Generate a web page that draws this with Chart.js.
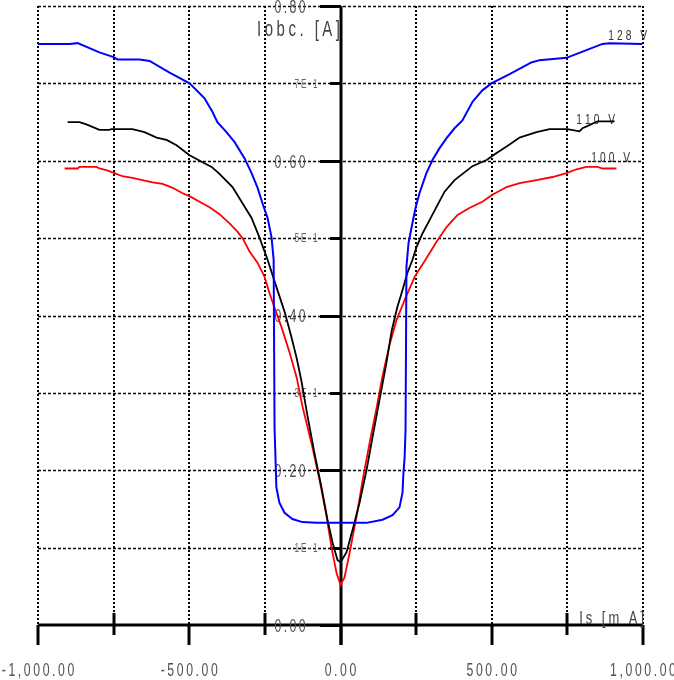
<!DOCTYPE html>
<html>
<head>
<meta charset="utf-8">
<script src="https://cdn.jsdelivr.net/npm/chart.js@4.4.1/dist/chart.umd.min.js"></script>
<style>
    html, body { margin: 0; padding: 0; background: #fff; }
    #chart { display: block; }
</style>
</head>
<body>
<canvas id="chart" width="674" height="680"></canvas>
<script>
// Axis ticks and labels
const xMajorTicks = [-1000, -500, 0, 500, 1000];
const xMinorTicks = [-750, -250, 250, 750];
const xMajorLabels = ['-1,000.00', '-500.00', '0.00', '500.00', '1,000.00'];
const yMajorTicks = [0, 0.2, 0.4, 0.6, 0.8];
const yMinorTicks = [0.1, 0.3, 0.5, 0.7];
const yMajorLabels = ['0.00', '0.20', '0.40', '0.60', '0.80'];
const yMinorLabels = ['1E-1', '3E-1', '5E-1', '7E-1'];

// Series names
const seriesNames = ['128 V', '110 V', '100 V'];

// 128 V curve
const is128 = [-1000, -896, -869, -797, -750, -737, -664, -631, -565, -499, -450, -423, -407, -377, -350, -317, -294, -274, -258, -241, -228, -221, -218, -215, -212, -202, -185, -159, -126, -79, 0, 86, 139, 172, 195, 205, 208, 212, 215, 218, 225, 235, 248, 261, 284, 304, 327, 350, 377, 403, 436, 469, 499, 559, 631, 658, 747, 813, 866, 889, 998];
const iobc128 = [0.751, 0.751, 0.752, 0.740, 0.734, 0.731, 0.731, 0.729, 0.714, 0.700, 0.681, 0.663, 0.650, 0.637, 0.624, 0.603, 0.584, 0.565, 0.545, 0.526, 0.501, 0.472, 0.255, 0.217, 0.178, 0.158, 0.145, 0.137, 0.133, 0.132, 0.132, 0.132, 0.136, 0.142, 0.152, 0.171, 0.196, 0.217, 0.252, 0.463, 0.494, 0.514, 0.539, 0.558, 0.584, 0.601, 0.616, 0.629, 0.642, 0.652, 0.676, 0.691, 0.700, 0.712, 0.727, 0.730, 0.733, 0.743, 0.751, 0.752, 0.751];

// 110 V curve
const is110 = [-902, -863, -840, -797, -764, -757, -688, -648, -608, -575, -542, -499, -456, -426, -400, -357, -324, -294, -268, -241, -212, -185, -162, -145, -129, -109, -86, -63, -43, -26, -10, 0, 20, 40, 63, 86, 106, 129, 152, 169, 188, 205, 221, 238, 251, 271, 294, 317, 344, 377, 410, 436, 483, 516, 559, 592, 648, 691, 750, 790, 800, 823, 850, 906];
const iobc110 = [0.650, 0.650, 0.647, 0.640, 0.640, 0.641, 0.641, 0.637, 0.630, 0.627, 0.620, 0.607, 0.598, 0.592, 0.583, 0.566, 0.545, 0.526, 0.501, 0.472, 0.437, 0.405, 0.372, 0.345, 0.315, 0.270, 0.222, 0.178, 0.136, 0.106, 0.084, 0.081, 0.094, 0.123, 0.158, 0.200, 0.243, 0.291, 0.339, 0.380, 0.411, 0.433, 0.455, 0.472, 0.488, 0.506, 0.523, 0.540, 0.560, 0.575, 0.585, 0.593, 0.601, 0.610, 0.621, 0.630, 0.637, 0.641, 0.641, 0.638, 0.642, 0.646, 0.651, 0.651];

// 100 V curve
const is100 = [-912, -869, -863, -807, -797, -774, -747, -721, -688, -655, -621, -588, -555, -522, -493, -466, -433, -400, -367, -340, -324, -301, -274, -251, -235, -218, -195, -169, -145, -126, -96, -69, -46, -30, -13, 0, 13, 30, 53, 73, 96, 119, 139, 162, 185, 212, 245, 284, 317, 350, 387, 426, 469, 502, 549, 592, 648, 701, 747, 780, 813, 850, 866, 912];
const iobc100 = [0.590, 0.590, 0.592, 0.592, 0.590, 0.588, 0.584, 0.580, 0.578, 0.575, 0.572, 0.570, 0.565, 0.558, 0.553, 0.547, 0.540, 0.531, 0.519, 0.508, 0.500, 0.483, 0.468, 0.450, 0.429, 0.410, 0.385, 0.353, 0.320, 0.283, 0.235, 0.187, 0.140, 0.101, 0.067, 0.052, 0.061, 0.093, 0.140, 0.187, 0.235, 0.280, 0.322, 0.362, 0.394, 0.420, 0.450, 0.474, 0.495, 0.514, 0.530, 0.539, 0.547, 0.556, 0.566, 0.571, 0.575, 0.579, 0.584, 0.589, 0.592, 0.592, 0.590, 0.590];

function toPoints(xs, ys) {
    return xs.map((v, i) => ({ x: v, y: ys[i] }));
}

// Draws text one char at a time, squeezed horizontally, with extra spacing
function drawSpaced(ctx, text, x, y, size, gap, align, color) {
    const sx = 0.68;
    ctx.save();
    ctx.font = size + 'px "Liberation Sans", Arial, sans-serif';
    ctx.fillStyle = color || '#555';
    ctx.textBaseline = 'middle';
    ctx.textAlign = 'left';
    const widths = [...text].map(ch => ctx.measureText(ch).width * sx);
    const total = widths.reduce((s, w) => s + w, 0) + gap * (text.length - 1);
    let cx = align === 'center' ? x - total / 2 : align === 'right' ? x - total : x;
    [...text].forEach((ch, i) => {
        ctx.save();
        ctx.translate(cx, y);
        ctx.scale(sx, 1);
        ctx.fillText(ch, 0, 0);
        ctx.restore();
        cx += widths[i] + gap;
    });
    ctx.restore();
}

function line(ctx, x1, y1, x2, y2) {
    ctx.beginPath();
    ctx.moveTo(x1, y1);
    ctx.lineTo(x2, y2);
    ctx.stroke();
}

// Grid, axes through the origin, ticks and all the texts
const decorPlugin = {
    id: 'decor',
    beforeDatasetsDraw(chart) {
        const { ctx, chartArea: a, scales: { x, y } } = chart;
        const x0 = Math.round(x.getPixelForValue(0));
        const y0 = Math.round(y.getPixelForValue(0));
        ctx.save();

        // horizontal dashed grid
        ctx.strokeStyle = '#000';
        ctx.lineWidth = 1.5;
        ctx.setLineDash([3, 2]);
        yMajorTicks.concat(yMinorTicks).forEach(v => {
            if (v === 0) return;
            const py = Math.round(y.getPixelForValue(v)) + 0.5;
            line(ctx, a.left, py, a.right, py);
        });

        // vertical dotted grid
        ctx.lineWidth = 2;
        ctx.setLineDash([2, 2]);
        xMajorTicks.concat(xMinorTicks).forEach(v => {
            if (v === 0) return;
            const px = Math.round(x.getPixelForValue(v));
            line(ctx, px, a.top, px, a.bottom);
        });

        // axes
        ctx.setLineDash([]);
        ctx.lineWidth = 3;
        line(ctx, a.left, y0, a.right, y0);
        line(ctx, x0, a.top, x0, y0 + 20);

        // x ticks
        xMajorTicks.forEach(v => {
            const px = Math.round(x.getPixelForValue(v));
            line(ctx, px, y0, px, y0 + 20);
        });
        xMinorTicks.forEach(v => {
            const px = Math.round(x.getPixelForValue(v));
            line(ctx, px, y0 - 12, px, y0 + 10);
        });

        // y ticks
        yMajorTicks.forEach(v => {
            const py = Math.round(y.getPixelForValue(v)) + 0.5;
            line(ctx, x0 - 21, py, x0, py);
        });
        yMinorTicks.forEach(v => {
            const py = Math.round(y.getPixelForValue(v)) + 0.5;
            line(ctx, x0 - 11, py, x0, py);
        });

        // tick labels
        yMajorTicks.forEach((v, i) => {
            drawSpaced(ctx, yMajorLabels[i], x0 - 51, y.getPixelForValue(v) + 2, 18, 2.4, 'center', '#505050');
        });
        yMinorTicks.forEach((v, i) => {
            drawSpaced(ctx, yMinorLabels[i], x0 - 35, y.getPixelForValue(v) + 1, 12, 2, 'center', '#666');
        });
        xMajorLabels.forEach((t, i) => {
            drawSpaced(ctx, t, x.getPixelForValue(xMajorTicks[i]), 671, 18, 2.6, 'center', '#505050');
        });

        // axis titles
        drawSpaced(ctx, 'Iobc. [A]', x0 - 1, 30, 22, 3.5, 'right', '#444');
        drawSpaced(ctx, 'Is [m A]', a.right + 1, 619, 19, 3, 'right', '#444');

        // curve names
        drawSpaced(ctx, seriesNames[0], 647, 36, 15, 3, 'right', '#333');
        drawSpaced(ctx, seriesNames[1], 615, 120, 15, 3, 'right', '#333');
        drawSpaced(ctx, seriesNames[2], 630, 158, 15, 3, 'right', '#333');

        ctx.restore();
    }
};

const seriesColors = ['rgb(0, 0, 255)', 'rgb(0, 0, 0)', 'rgb(255, 0, 0)'];
const seriesData = [toPoints(is128, iobc128), toPoints(is110, iobc110), toPoints(is100, iobc100)];

new Chart(document.getElementById('chart'), {
    type: 'line',
    data: {
        datasets: seriesData.map((pts, i) => ({
            label: seriesNames[i],
            data: pts,
            borderColor: seriesColors[i],
            borderWidth: i === 0 ? 2 : 1.8,
            pointRadius: 0,
            tension: 0,
            fill: false
        }))
    },
    options: {
        responsive: false,
        animation: false,
        devicePixelRatio: 1,
        layout: {
            padding: { left: 38, right: 31, top: 6, bottom: 55 }
        },
        plugins: {
            legend: { display: false },
            tooltip: { enabled: false }
        },
        scales: {
            x: { type: 'linear', min: -1000, max: 1000, display: false },
            y: { type: 'linear', min: 0, max: 0.8, display: false }
        }
    },
    plugins: [decorPlugin]
});
</script>
</body>
</html>
